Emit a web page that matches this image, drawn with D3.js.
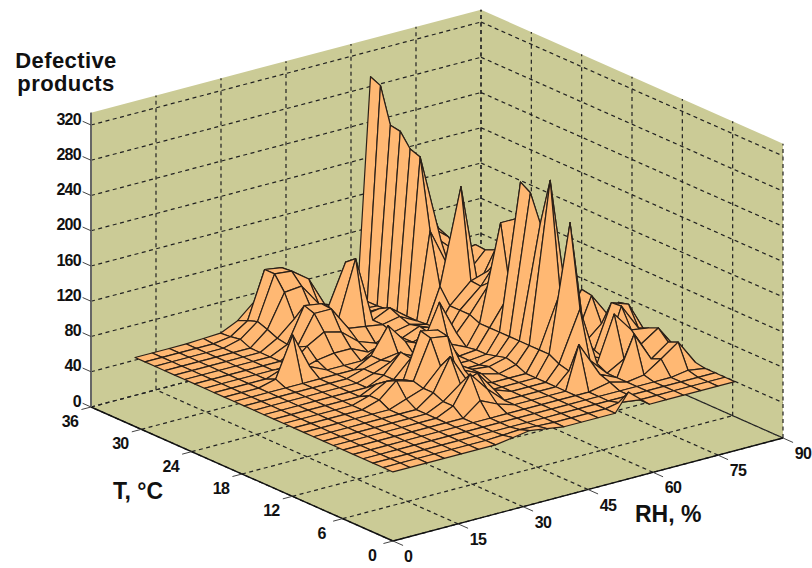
<!DOCTYPE html>
<html>
<head>
<meta charset="utf-8">
<style>
    html, body { margin: 0; background: #fff; }
    svg { display: block; }
    text { font-family: "Liberation Sans", Arial, sans-serif; fill: #111; }
    .tick { font-size: 16px; font-weight: bold; letter-spacing: -0.7px; }
    .title { font-size: 22px; font-weight: bold; }
    .grid { fill: none; stroke: #222; stroke-width: 1.2; stroke-dasharray: 4 3.5; }
</style>
</head>
<body>
<script src="https://cdnjs.cloudflare.com/ajax/libs/d3/7.8.5/d3.min.js"></script>
<script>
// axis ticks
var tTicks = [0, 6, 12, 18, 24, 30, 36];
var rhTicks = [0, 15, 30, 45, 60, 75, 90];
var zTicks = [0, 40, 80, 120, 160, 200, 240, 280, 320];
var zTop = 334;

var tempGrid = [5.25, 6.43, 7.62, 8.8, 9.98, 11.16, 12.35, 13.53, 14.71, 15.89, 17.08, 18.26, 19.44, 20.62, 21.81, 22.99, 24.17, 25.35, 26.54, 27.72, 28.9, 30.08, 31.27, 32.45, 33.63, 34.81, 36];
var rhGrid = [10.15, 14.1, 18.04, 21.99, 25.93, 29.88, 33.83, 37.77, 41.72, 45.66, 49.61, 53.56, 57.5, 61.45, 64.5, 69.34, 73.29, 77.23, 81.18, 85.12, 89.07];

// defective products, one row per temperature, one column per RH
var defects = [
    [43,43,43,43,43,43,43,46,49,46,43,43,43,43,63,43,43,43,43,43,43],
    [43,43,43,43,43,43,43,44,45,44,43,43,43,43,46,43,43,43,43,43,43],
    [43,43,43,43,43,43,43,43,43,43,43,43,43,43,43,43,43,43,43,43,43],
    [43,43,43,43,43,43,43,43,43,43,43,43,43,43,43,43,43,43,43,46,43],
    [43,43,43,43,43,43,43,43,43,43,43,43,43,43,43,48,43,46,59,73,45],
    [43,43,43,43,43,43,43,43,58,49,43,43,43,43,92,52,43,87,54,68,46],
    [43,43,43,43,43,43,43,52,83,61,43,43,43,43,57,63,43,54,66,79,52],
    [43,43,43,43,43,43,43,52,67,74,50,43,43,43,60,116,49,100,77,74,52],
    [43,43,43,43,43,43,43,57,93,60,43,43,43,43,66,209,52,45,99,69,57],
    [43,43,43,43,43,43,50,57,77,60,49,43,43,43,66,125,77,49,98,91,54],
    [43,43,43,43,43,49,66,60,104,101,57,48,43,48,66,247,100,52,69,88,54],
    [43,43,43,43,43,49,60,57,107,103,60,48,46,51,66,193,100,50,96,68,49],
    [43,43,43,43,43,43,52,52,71,66,52,43,43,48,66,223,111,66,98,54,43],
    [43,43,43,43,43,43,43,52,73,52,46,43,43,45,66,230,123,77,71,43,43],
    [43,43,43,43,43,43,43,49,57,50,43,43,43,45,66,100,111,77,54,43,43],
    [43,43,43,43,43,43,43,49,54,57,48,43,52,43,66,174,174,77,43,43,43],
    [43,43,43,43,43,43,43,43,54,83,60,52,94,54,71,102,132,88,43,43,43],
    [43,43,43,48,93,52,43,43,43,54,43,49,54,49,71,92,117,94,43,43,43],
    [43,43,43,43,50,43,49,52,52,43,43,49,57,49,71,93,99,100,43,43,43],
    [43,43,43,43,43,43,60,71,66,50,43,50,54,49,88,195,77,113,43,43,43],
    [43,43,43,43,43,43,54,87,87,60,57,54,58,48,146,93,88,108,43,43,43],
    [43,43,43,43,43,43,52,91,88,66,129,54,63,48,225,123,105,109,43,43,43],
    [43,43,43,43,43,43,54,71,77,75,120,54,57,46,229,134,118,77,43,43,43],
    [43,43,43,43,43,43,59,96,98,73,66,52,49,46,244,179,123,54,43,43,43],
    [43,43,43,43,43,48,63,112,110,96,60,49,46,45,246,191,88,43,43,43,43],
    [43,43,43,43,43,46,59,112,109,90,54,46,43,45,286,157,66,43,43,43,43],
    [43,43,43,43,44,45,54,71,66,57,45,43,43,43,291,145,54,43,43,43,43]
];

// fixed camera: each data axis moves the point along its own screen direction
var origin = [393, 541];
var xFromT = d3.scaleLinear().domain([0, 36]).range([0, -302]);
var yFromT = d3.scaleLinear().domain([0, 36]).range([0, -134]);
var xFromRH = d3.scaleLinear().domain([0, 90]).range([0, 390]);
var yFromRH = d3.scaleLinear().domain([0, 90]).range([0, -103]);
var yFromZ = d3.scaleLinear().domain([0, 320]).range([0, -282]);

function project(t, rh, z) {
    return [
        origin[0] + xFromT(t) + xFromRH(rh),
        origin[1] + yFromT(t) + yFromRH(rh) + yFromZ(z)
    ];
}

var line = d3.line();
var svg = d3.select("body").append("svg").attr("width", 812).attr("height", 568);

// box walls and floor
var walls = [
    [[36, 0, 0], [36, 90, 0], [36, 90, zTop], [36, 0, zTop]],
    [[36, 90, 0], [0, 90, 0], [0, 90, zTop], [36, 90, zTop]],
    [[36, 0, 0], [36, 90, 0], [0, 90, 0], [0, 0, 0]]
];
svg.selectAll("path.wall")
    .data(walls)
    .join("path")
    .attr("class", "wall")
    .attr("fill", "#cbcb96")
    .attr("d", function(d) {
        return line(d.map(function(p) { return project(p[0], p[1], p[2]); })) + "Z";
    });

// dashed grid
var gridLines = [];
tTicks.forEach(function(t) {
    gridLines.push([[t, 0, 0], [t, 90, 0]]);
    gridLines.push([[t, 90, 0], [t, 90, zTop]]);
});
rhTicks.forEach(function(rh) {
    gridLines.push([[0, rh, 0], [36, rh, 0]]);
    gridLines.push([[36, rh, 0], [36, rh, zTop]]);
});
zTicks.forEach(function(z) {
    gridLines.push([[36, 0, z], [36, 90, z]]);
    gridLines.push([[36, 90, z], [0, 90, z]]);
});
svg.selectAll("path.grid")
    .data(gridLines)
    .join("path")
    .attr("class", "grid")
    .attr("d", function(d) {
        return line(d.map(function(p) { return project(p[0], p[1], p[2]); }));
    });

// axis lines
var axisLines = [
    { a: [36, 0, 0], b: [0, 0, 0], color: "#111", w: 1.4 },
    { a: [0, 0, 0], b: [0, 90, 0], color: "#111", w: 1.4 },
    { a: [36, 0, 0], b: [36, 0, zTop], color: "#666", w: 2 }
];
zTicks.forEach(function(z) {
    axisLines.push({ a: [36, 0, z], b: [37, 0, z], color: "#444", w: 1 });
});
tTicks.forEach(function(t) {
    axisLines.push({ a: [t, 0, 0], b: [t, -2.2, 0], color: "#444", w: 1 });
});
rhTicks.forEach(function(rh) {
    axisLines.push({ a: [0, rh, 0], b: [-1.2, rh, 0], color: "#444", w: 1 });
});
svg.selectAll("line.axis")
    .data(axisLines)
    .join("line")
    .attr("class", "axis")
    .attr("x1", function(d) { return project(d.a[0], d.a[1], d.a[2])[0]; })
    .attr("y1", function(d) { return project(d.a[0], d.a[1], d.a[2])[1]; })
    .attr("x2", function(d) { return project(d.b[0], d.b[1], d.b[2])[0]; })
    .attr("y2", function(d) { return project(d.b[0], d.b[1], d.b[2])[1]; })
    .attr("stroke", function(d) { return d.color; })
    .attr("stroke-width", function(d) { return d.w; });

// surface cells, back corner first so the front ones paint over them
var cells = [];
for (var i = tempGrid.length - 2; i >= 0; i--) {
    for (var j = rhGrid.length - 2; j >= 0; j--) {
        cells.push([
            project(tempGrid[i], rhGrid[j], defects[i][j]),
            project(tempGrid[i + 1], rhGrid[j], defects[i + 1][j]),
            project(tempGrid[i + 1], rhGrid[j + 1], defects[i + 1][j + 1]),
            project(tempGrid[i], rhGrid[j + 1], defects[i][j + 1])
        ]);
    }
}
svg.selectAll("path.cell")
    .data(cells)
    .join("path")
    .attr("class", "cell")
    .attr("fill", "#ffb873")
    .attr("stroke", "#2a2018")
    .attr("stroke-width", 1.2)
    .attr("stroke-linejoin", "round")
    .attr("d", function(d) { return line(d) + "Z"; });

// tick labels
svg.selectAll("text.zt")
    .data(zTicks)
    .join("text")
    .attr("class", "tick zt")
    .attr("text-anchor", "end")
    .attr("x", 81)
    .attr("y", function(d) { return project(36, 0, d)[1] - 0.5; })
    .text(function(d) { return d; });
svg.selectAll("text.tt")
    .data(tTicks)
    .join("text")
    .attr("class", "tick tt")
    .attr("text-anchor", "middle")
    .attr("x", function(d) { return project(d, 0, 0)[0] - 21; })
    .attr("y", function(d) { return project(d, 0, 0)[1] + 20; })
    .text(function(d) { return d; });
svg.selectAll("text.rt")
    .data(rhTicks)
    .join("text")
    .attr("class", "tick rt")
    .attr("text-anchor", "middle")
    .attr("x", function(d) { return project(0, d, 0)[0] + (d === 0 ? 15 : 20); })
    .attr("y", function(d) { return project(0, d, 0)[1] + 21; })
    .text(function(d) { return d; });

// axis titles
svg.append("text").attr("class", "title").attr("text-anchor", "middle").attr("x", 66).attr("y", 68).style("letter-spacing", "0.4px").text("Defective");
svg.append("text").attr("class", "title").attr("text-anchor", "middle").attr("x", 66).attr("y", 91).style("letter-spacing", "0.4px").text("products");
svg.append("text").attr("class", "title").style("font-size", "23px").attr("x", 113).attr("y", 499).text("T, °C");
svg.append("text").attr("class", "title").style("font-size", "23px").attr("x", 635).attr("y", 522).text("RH, %");
</script>
</body>
</html>
